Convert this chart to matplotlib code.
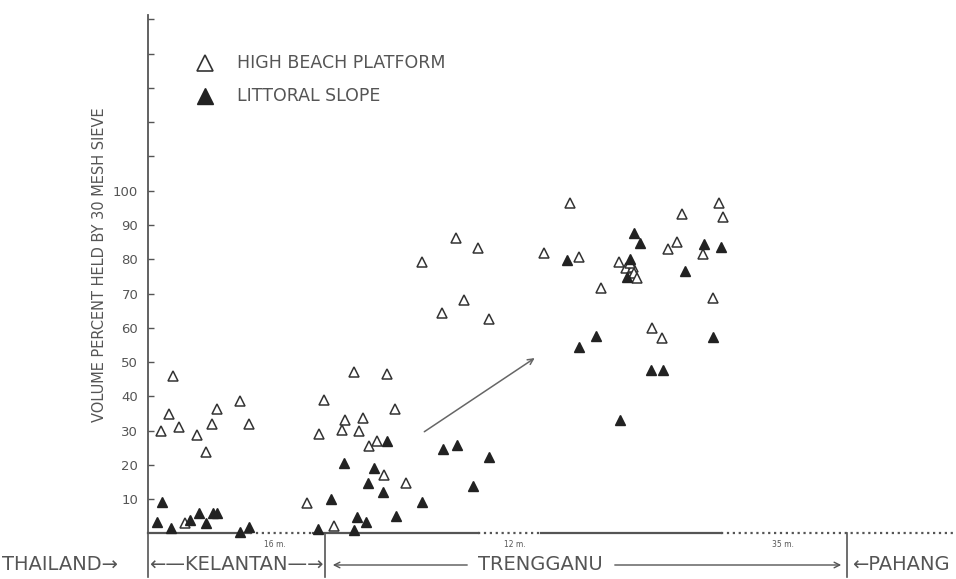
import numpy as np
import matplotlib
matplotlib.use('Agg')
import matplotlib.pyplot as plt

# distance along the coast (arbitrary map units, 0 = Thailand border)
hb_x = [13, 21, 25, 31, 49, 58, 64, 69, 92, 101, 37,
        186, 206, 239, 176, 247, 197, 215, 171, 194, 211, 229, 221, 236, 258, 159,
        422, 308, 330, 274, 396, 431, 534, 529, 520, 471, 453, 316, 294, 341, 504,
        514, 565, 571, 575, 555, 478, 485, 486, 489, 482]
hb_y = [30.0, 34.7, 46.0, 31.0, 28.6, 23.6, 32.0, 36.4, 38.5, 31.8, 3.0,
        2.0, 47.0, 46.4, 38.8, 36.4, 33.2, 33.8, 28.9, 30.3, 30.0, 27.0, 25.4, 17.0, 14.6, 8.8,
        96.5, 86.3, 83.4, 79.3, 81.9, 80.8, 93.3, 85.1, 83.1, 79.3, 71.7, 68.2, 64.4, 62.7, 59.8,
        56.9, 68.8, 96.5, 92.4, 81.6, 77.3, 77.6, 76.1, 74.6, 79.0]

ls_x = [9, 14, 23, 42, 51, 58, 65, 69, 92, 101, 170,
        239, 295, 309, 341, 196, 226, 220, 235, 325, 183, 274, 209, 218, 248, 206,
        486, 492, 419, 537, 448, 431, 503, 515, 472, 556, 573, 565, 482, 479]
ls_y = [3.3, 9.0, 1.5, 4.0, 5.8, 3.0, 5.8, 5.8, 0.5, 1.8, 1.2,
        26.8, 24.5, 25.7, 22.4, 20.4, 19.0, 14.6, 12.2, 13.7, 9.9, 9.0, 4.7, 3.2, 5.0, 1.0,
        87.8, 84.8, 79.9, 76.7, 57.7, 54.5, 47.8, 47.8, 33.0, 84.5, 83.7, 57.4, 80.2, 74.9]

yticks = list(range(10, 160, 10))
ytick_labels = [str(v) if v <= 100 else '' for v in yticks]

borders = [0, 177, 699]
scale_labels = ['16 m.', '12 m.', '35 m.']
scale_x = [127, 367, 635]

ink = '#555555'
plt.rcParams['font.family'] = ['DejaVu Sans']

fig = plt.figure(figsize=(9.56, 5.79), dpi=100)
ax = fig.add_axes([148/956, 1 - 533.3/579, 1 - 148/956, (533.3 - 15)/579])
ax.set_xlim(0, 808)
ax.set_ylim(0, 151.3)

for s in ['top', 'right', 'bottom']:
    ax.spines[s].set_visible(False)
ax.spines['left'].set_color('#555555')
ax.spines['left'].set_linewidth(1.3)

ax.set_xticks([])
ax.set_yticks(yticks)
ax.set_yticklabels(ytick_labels)
ax.tick_params(axis='y', direction='in', length=4, width=1, colors='#555555',
               labelsize=9.5, pad=7, labelcolor=ink)

# baseline: solid and dotted pieces
segs = [(0, 102, '-'), (102, 165, ':'), (165, 330, '-'), (330, 393, ':'),
        (393, 573, '-'), (573, 808, ':')]
for a, b, st in segs:
    ax.plot([a, b], [0, 0], linestyle=st, color='#555555', lw=1.6,
            clip_on=False, zorder=1)

# province borders below the baseline
for bx in borders:
    ax.plot([bx, bx], [0, -0.085 * 151.3], color='#555555', lw=1.2, clip_on=False)

for lab, sx in zip(scale_labels, scale_x):
    ax.text(sx, -0.022 * 151.3, lab, fontsize=5.5, color=ink, ha='center', va='center')

ax.plot(hb_x, hb_y, linestyle='none', marker='^', markersize=6.5,
        markerfacecolor='white', markeredgecolor='#333333', markeredgewidth=1.1,
        clip_on=False, zorder=3)
ax.plot(ls_x, ls_y, linestyle='none', marker='^', markersize=6.5,
        markerfacecolor='#222222', markeredgecolor='#222222',
        clip_on=False, zorder=4)

ax.annotate('', xy=(389, 51.6), xytext=(274, 29.2),
            arrowprops=dict(arrowstyle='->', color='#666666', lw=1.1))

# legend
ax.plot([57], [137.4], marker='^', markersize=11, markerfacecolor='white',
        markeredgecolor='#333333', markeredgewidth=1.2, linestyle='none')
ax.plot([57], [127.8], marker='^', markersize=11, color='#222222', linestyle='none')
ax.text(89, 137.4, 'HIGH BEACH PLATFORM', fontsize=12.5, color=ink, va='center')
ax.text(89, 127.8, 'LITTORAL SLOPE', fontsize=12.5, color=ink, va='center')

fig.text(100/956, 1 - 265/579, 'VOLUME PERCENT HELD BY 30 MESH SIEVE',
         rotation=90, ha='center', va='center', fontsize=10.5, color=ink)

# region labels
ly = 1 - 565/579
fig.text(2/956, ly, 'THAILAND\u2192', fontsize=14, color=ink, va='center', ha='left')
fig.text(236/956, ly, '\u2190\u2014KELANTAN\u2014\u2192', fontsize=14, color=ink,
         va='center', ha='center')
fig.text(852/956, ly, '\u2190PAHANG', fontsize=14, color=ink, va='center', ha='left')
fig.text(540/956, ly, 'TRENGGANU', fontsize=14, color=ink, va='center', ha='center')
fig.add_artist(matplotlib.patches.FancyArrowPatch((470/956, ly), (330/956, ly),
               transform=fig.transFigure, arrowstyle='->', color=ink, lw=1,
               mutation_scale=10))
fig.add_artist(matplotlib.patches.FancyArrowPatch((612/956, ly), (844/956, ly),
               transform=fig.transFigure, arrowstyle='->', color=ink, lw=1,
               mutation_scale=10))

fig.savefig('out.png', dpi=100)
